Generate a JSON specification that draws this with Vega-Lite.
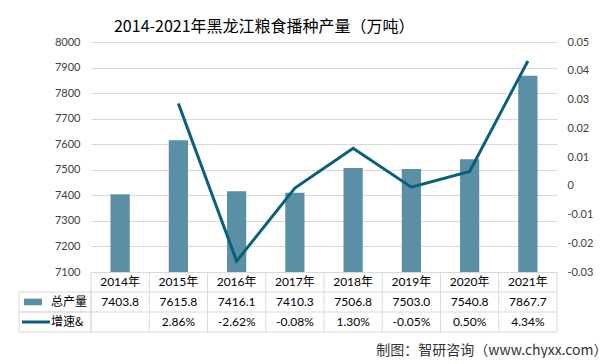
{
  "$schema": "https://vega.github.io/schema/vega-lite/v6.json",
  "padding": {"left": 15, "top": 19, "right": 0, "bottom": 0},
  "background": "white",
  "title": {"text": "2014-2021年黑龙江粮食播种产量（万吨）", "font": "Noto Sans CJK SC", "fontSize": 16, "fontWeight": "normal", "color": "#000000", "anchor": "start", "dx": 98, "offset": 1},
  "datasets": {
    "main": [
      {"year": "2014年", "output": 7403.8, "growth": null},
      {"year": "2015年", "output": 7615.8, "growth": 0.0286},
      {"year": "2016年", "output": 7416.1, "growth": -0.0262},
      {"year": "2017年", "output": 7410.3, "growth": -0.0008},
      {"year": "2018年", "output": 7506.8, "growth": 0.0130},
      {"year": "2019年", "output": 7503.0, "growth": -0.0005},
      {"year": "2020年", "output": 7540.8, "growth": 0.0050},
      {"year": "2021年", "output": 7867.7, "growth": 0.0434}
    ],
    "hdr": [{"row": "总产量"}, {"row": "增速&"}]
  },
  "bounds": "flush",
  "spacing": 0,
  "vconcat": [
    {
      "width": 466,
      "height": 230,
      "data": {"name": "main"},
      "encoding": {
        "x": {"field": "year", "type": "nominal", "sort": null, "scale": {"type": "band", "paddingInner": 0, "paddingOuter": 0}, "axis": null}
      },
      "layer": [
        {
          "mark": {"type": "bar", "color": "#5b8fa6", "width": {"band": 0.33}, "clip": true},
          "encoding": {
            "y": {"field": "output", "type": "quantitative",
              "scale": {"domain": [7100, 8000], "zero": false, "nice": false},
              "axis": {"orient": "left", "values": [7100, 7200, 7300, 7400, 7500, 7600, 7700, 7800, 7900, 8000], "format": "d", "grid": true, "gridColor": "#d9d9d9", "domain": false, "ticks": false, "labelPadding": 11, "title": null}}
          }
        },
        {
          "mark": {"type": "line", "color": "#0a5f7d", "strokeWidth": 3},
          "encoding": {
            "y": {"field": "growth", "type": "quantitative",
              "scale": {"domain": [-0.03, 0.05], "zero": false, "nice": false},
              "axis": {"orient": "right", "values": [-0.03, -0.02, -0.01, 0, 0.01, 0.02, 0.03, 0.04, 0.05], "format": ".2~f", "grid": false, "domain": false, "ticks": false, "labelPadding": 10, "labelAlign": "left", "title": null}}
          }
        }
      ],
      "resolve": {"scale": {"y": "independent"}}
    },
    {
      "width": 466,
      "height": 60,
      "title": {"text": "制图：智研咨询（www.chyxx.com）", "orient": "bottom", "anchor": "end", "font": "Noto Sans CJK SC", "fontSize": 14, "fontWeight": "normal", "color": "#333333", "offset": 11, "dx": 50},
      "layer": [
        {
          "data": {"name": "main"},
          "mark": {"type": "rule", "color": "#d9d9d9", "strokeWidth": 1},
          "encoding": {
            "x": {"field": "year", "type": "nominal", "bandPosition": 0, "scale": {"type": "band", "domain": ["2014年", "2015年", "2016年", "2017年", "2018年", "2019年", "2020年", "2021年"], "paddingInner": 0, "paddingOuter": 0}, "axis": null}
          }
        },
        {
          "data": {"name": "main"},
          "transform": [{"filter": "datum.year === '2021年'"}],
          "mark": {"type": "rule", "color": "#d9d9d9", "strokeWidth": 1},
          "encoding": {
            "x": {"field": "year", "type": "nominal", "bandPosition": 1, "scale": {"type": "band", "domain": ["2014年", "2015年", "2016年", "2017年", "2018年", "2019年", "2020年", "2021年"], "paddingInner": 0, "paddingOuter": 0}, "axis": null}
          }
        },
        {
          "data": {"name": "hdr"},
          "mark": {"type": "rule", "color": "#d9d9d9", "strokeWidth": 1},
          "encoding": {
            "y": {"field": "row", "type": "nominal", "bandPosition": 0, "scale": {"type": "band", "domain": ["年份", "总产量", "增速&"], "paddingInner": 0, "paddingOuter": 0}, "axis": null}
          }
        },
        {
          "data": {"name": "hdr"},
          "transform": [{"filter": "datum.row === '增速&'"}],
          "mark": {"type": "rule", "color": "#d9d9d9", "strokeWidth": 1},
          "encoding": {
            "y": {"field": "row", "type": "nominal", "bandPosition": 1, "scale": {"type": "band", "domain": ["年份", "总产量", "增速&"], "paddingInner": 0, "paddingOuter": 0}, "axis": null}
          }
        },
        {
          "data": {"name": "main"},
          "mark": {"type": "text", "font": "Lato, Noto Sans CJK SC", "fontSize": 12, "color": "#000000"},
          "encoding": {
            "x": {"field": "year", "type": "nominal", "scale": {"type": "band", "domain": ["2014年", "2015年", "2016年", "2017年", "2018年", "2019年", "2020年", "2021年"], "paddingInner": 0, "paddingOuter": 0}, "axis": null},
            "y": {"datum": "年份", "type": "nominal", "scale": {"type": "band", "domain": ["年份", "总产量", "增速&"], "paddingInner": 0, "paddingOuter": 0}, "axis": null},
            "text": {"field": "year"}
          }
        },
        {
          "data": {"name": "main"},
          "mark": {"type": "text", "font": "Lato", "fontSize": 12, "color": "#000000"},
          "encoding": {
            "x": {"field": "year", "type": "nominal", "scale": {"type": "band", "domain": ["2014年", "2015年", "2016年", "2017年", "2018年", "2019年", "2020年", "2021年"], "paddingInner": 0, "paddingOuter": 0}, "axis": null},
            "y": {"datum": "总产量", "type": "nominal", "scale": {"type": "band", "domain": ["年份", "总产量", "增速&"], "paddingInner": 0, "paddingOuter": 0}, "axis": null},
            "text": {"field": "output", "format": ".1f"}
          }
        },
        {
          "data": {"name": "main"},
          "transform": [{"filter": "datum.growth != null"}],
          "mark": {"type": "text", "font": "Lato", "fontSize": 12, "color": "#000000"},
          "encoding": {
            "x": {"field": "year", "type": "nominal", "scale": {"type": "band", "domain": ["2014年", "2015年", "2016年", "2017年", "2018年", "2019年", "2020年", "2021年"], "paddingInner": 0, "paddingOuter": 0}, "axis": null},
            "y": {"datum": "增速&", "type": "nominal", "scale": {"type": "band", "domain": ["年份", "总产量", "增速&"], "paddingInner": 0, "paddingOuter": 0}, "axis": null},
            "text": {"field": "growth", "format": ".2%"}
          }
        },
        {
          "data": {"name": "hdr"},
          "mark": {"type": "rect", "fillOpacity": 0, "stroke": "#d9d9d9", "strokeWidth": 1},
          "encoding": {
            "x": {"datum": "hdr", "type": "nominal", "scale": {"type": "band", "domain": ["hdr"], "range": [-72, 0], "paddingInner": 0, "paddingOuter": 0}, "axis": null},
            "y": {"field": "row", "type": "nominal", "scale": {"type": "band", "domain": ["年份", "总产量", "增速&"], "paddingInner": 0, "paddingOuter": 0}, "axis": null}
          }
        },
        {
          "data": {"name": "hdr"},
          "mark": {"type": "text", "align": "left", "dx": 32, "font": "Noto Sans CJK SC", "fontSize": 12, "color": "#000000"},
          "encoding": {
            "x": {"datum": "hdr", "type": "nominal", "bandPosition": 0, "scale": {"type": "band", "domain": ["hdr"], "range": [-72, 0], "paddingInner": 0, "paddingOuter": 0}, "axis": null},
            "y": {"field": "row", "type": "nominal", "scale": {"type": "band", "domain": ["年份", "总产量", "增速&"], "paddingInner": 0, "paddingOuter": 0}, "axis": null},
            "text": {"field": "row"}
          }
        },
        {
          "data": {"name": "hdr"},
          "transform": [{"filter": "datum.row === '总产量'"}],
          "mark": {"type": "point", "shape": "M-1,-0.37H1V0.37H-1Z", "size": 324, "filled": true, "color": "#5b8fa6", "opacity": 1},
          "encoding": {
            "x": {"datum": "hdr", "type": "nominal", "bandPosition": 0.194, "scale": {"type": "band", "domain": ["hdr"], "range": [-72, 0], "paddingInner": 0, "paddingOuter": 0}, "axis": null},
            "y": {"field": "row", "type": "nominal", "scale": {"type": "band", "domain": ["年份", "总产量", "增速&"], "paddingInner": 0, "paddingOuter": 0}, "axis": null}
          }
        },
        {
          "data": {"name": "hdr"},
          "transform": [{"filter": "datum.row === '增速&'"}],
          "mark": {"type": "point", "shape": "M-1,0H1", "size": 784, "filled": false, "color": "#0a5f7d", "strokeWidth": 3, "opacity": 1},
          "encoding": {
            "x": {"datum": "hdr", "type": "nominal", "bandPosition": 0.236, "scale": {"type": "band", "domain": ["hdr"], "range": [-72, 0], "paddingInner": 0, "paddingOuter": 0}, "axis": null},
            "y": {"field": "row", "type": "nominal", "scale": {"type": "band", "domain": ["年份", "总产量", "增速&"], "paddingInner": 0, "paddingOuter": 0}, "axis": null}
          }
        }
      ],
      "resolve": {"scale": {"x": "independent"}}
    }
  ],
  "config": {
    "view": {"stroke": null},
    "axis": {"labelFont": "Lato", "labelFontSize": 11, "labelColor": "#404040"},
    "locale": {"number": {"decimal": ".", "thousands": ",", "grouping": [3], "currency": ["$", ""], "minus": "-"}}
  }
}
